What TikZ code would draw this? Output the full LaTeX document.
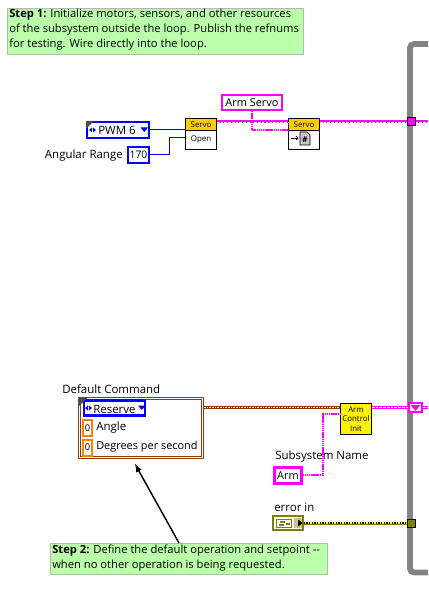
\documentclass[tikz,border=0pt]{standalone}
\usepackage{fontspec}
\setmainfont{Open Sans}
\definecolor{notegreen}{RGB}{187,255,170}
\definecolor{notegray}{RGB}{176,188,172}
\definecolor{loopgray}{RGB}{132,132,132}
\definecolor{refpink}{RGB}{255,0,255}
\definecolor{ctlblue}{RGB}{0,0,255}
\definecolor{numorange}{RGB}{255,128,0}
\definecolor{clubrown}{RGB}{140,60,10}
\definecolor{errolive}{RGB}{128,128,0}
\definecolor{headgold}{RGB}{255,204,0}
\tikzset{
  notebox/.style={draw=notegray,fill=notegreen,line width=0.75pt,inner sep=0pt,anchor=north west,minimum height=#1},
  vibox/.style={draw=black,fill=white,line width=0.75pt,inner sep=0pt,minimum width=23.25pt,minimum height=23.25pt},
  vihead/.style={draw=black,fill=headgold,line width=0.75pt,inner sep=0pt,minimum width=23.25pt,minimum height=9pt,font=\fontsize{5.9}{6}\selectfont},
  ctlbox/.style={draw=ctlblue,fill=white,line width=1.8pt,inner sep=0pt,font=\fontsize{8.6}{10}\selectfont},
  refbox/.style={draw=refpink,fill=white,line width=1.8pt,inner sep=0pt,font=\fontsize{8.2}{10}\selectfont},
  numbox/.style={draw=numorange,fill=white,line width=1.5pt,inner sep=0pt,minimum width=6.75pt,minimum height=12pt,font=\fontsize{7}{9}\selectfont},
  lbl/.style={inner sep=0pt,anchor=west,font=\fontsize{8.6}{10}\selectfont},
  tunnel/.style={draw=black,line width=0.75pt,inner sep=0pt,minimum width=6pt,minimum height=6pt},
  bluewire/.style={draw=ctlblue,line width=0.75pt},
  refwire/.style={draw=refpink,line width=2.25pt,postaction={draw=white,line width=0.6pt,dash pattern=on 2pt off 0.8pt}},
  thinref/.style={draw=refpink,line width=0.9pt,dash pattern=on 1.1pt off 0.5pt},
  bluemark/.style={fill=ctlblue,draw=none},
  cornermark/.style={fill=black!70,draw=none},
}
\begin{document}
\begin{tikzpicture}[x=0.75pt,y=0.75pt,yscale=-1,xscale=1]
\useasboundingbox (0,0) rectangle (428,591);
% Loop frame
\draw [loopgray,line width=4.4,rounded corners=3] (428,44) -- (410,44) -- (410,572.5) -- (428,572.5);
% Notes
\node (stepone) [notebox=34.5pt,minimum width=222pt] at (7,8) {};
\node (steponetext) [inner sep=0pt,anchor=north west,align=left,font=\fontsize{8.4}{11.25}\selectfont] at (9,9) {\textbf{Step 1:} Initialize motors, sensors, and other resources\\of the subsystem outside the loop. Publish the refnums\\for testing. Wire directly into the loop.};
\node (steptwo) [notebox=23.25pt,minimum width=207.75pt] at (50,543) {};
\node (steptwotext) [inner sep=0pt,anchor=north west,align=left,font=\fontsize{8.4}{11.25}\selectfont] at (52,544.5) {\textbf{Step 2:} Define the default operation and setpoint -{}-\\when no other operation is being requested.};
% Servo row
\node (pwm) [ctlbox,minimum width=46.5pt,minimum height=12pt] at (118,130) {};
\node (pwmtext) [lbl] at (98,130.5) {PWM 6};
\node (range) [ctlbox,minimum width=15.5pt,minimum height=12pt,font=\fontsize{7.8}{10}\selectfont] at (138.5,155) {170};
\node (rangelabel) [lbl,anchor=east] at (123,156) {Angular Range};
\node (openvi) [vibox,anchor=north west] at (185,118) {};
\node (openhead) [vihead,anchor=north west] at (185,118) {Servo};
\node (opentext) [inner sep=0pt,font=\fontsize{5.9}{7}\selectfont] at (201,139.5) {Open};
\node (armservo) [refbox,minimum width=45pt,minimum height=11pt] at (252,102.5) {Arm Servo};
\node (writevi) [vibox,anchor=north west] at (288,118) {};
\node (writehead) [vihead,anchor=north west] at (288,118) {Servo};
\coordinate (refend) at (428,122);
\coordinate (bend) at (252,130);
\node (reftunnel) [tunnel,fill=refpink] at (411,122) {};
% Wires
\draw [bluewire] (pwm.east) -- (openvi.west |- pwm.east);
\draw [bluewire] (range.east) -- ++(19,0) |- (185,138);
\draw [refwire] (openvi.east |- reftunnel) -- (writevi.west |- reftunnel);
\draw [thinref] (armservo.south) -- (bend) -- (writevi.west |- bend);
\draw [refwire] (writevi.east |- reftunnel) -- (reftunnel.west);
\draw [refwire] (reftunnel.east) -- (refend);
% Control marks and write icon
\fill [cornermark] (86,121) -- (94,121) -- (86,129) -- cycle;
\fill [bluemark] (89,130) -- (92,127.5) -- (92,132.5) -- cycle;
\fill [bluemark] (96,130) -- (93,127.5) -- (93,132.5) -- cycle;
\fill [bluemark] (140.5,127.5) -- (148,127.5) -- (144.25,132) -- cycle;
\draw [line width=0.6pt] (291,138) -- (298,138);
\draw [line width=0.6pt] (296,136) -- (298,138) -- (296,140);
\draw [fill=black!22,line width=0.6pt] (300,132) -- (307,132) -- (310,135) -- (310,145) -- (300,145) -- cycle;
\node (hashmark) [inner sep=0pt,font=\fontsize{6}{6}\selectfont\bfseries] at (305,140) {\#};
% Default command cluster
\node (defaultlabel) [lbl] at (62,389.5) {Default Command};
\node (cluster) [draw=clubrown,fill=white,line width=0.75pt,double=white,double distance=0.75pt,inner sep=0pt,anchor=north west,minimum width=92.25pt,minimum height=44.25pt] at (79,398) {};
\node (reserve) [ctlbox,minimum width=46pt,minimum height=11.5pt] at (114.5,408) {};
\node (reservetext) [lbl] at (93,409) {Reserve};
\node (anglenum) [numbox] at (87.5,428) {0};
\node (degnum) [numbox] at (87.5,447.5) {0};
\node (anglelabel) [lbl] at (96,427.5) {Angle};
\node (deglabel) [lbl,font=\fontsize{8.2}{10}\selectfont] at (96,446.5) {Degrees per second};
\fill [cornermark] (78,397) -- (88,397) -- (78,407) -- cycle;
\fill [bluemark] (85,408) -- (88,405.5) -- (88,410.5) -- cycle;
\fill [bluemark] (92,408) -- (89,405.5) -- (89,410.5) -- cycle;
\fill [bluemark] (138,405.5) -- (145.5,405.5) -- (141.75,410) -- cycle;
% Arm control
\node (armcontrol) [draw=black,fill=yellow,line width=0.75pt,inner sep=0pt,minimum width=23.25pt,minimum height=23.25pt,anchor=north west,align=center,font=\fontsize{5.9}{7.2}\selectfont] at (340,403) {Arm\\Control\\Init};
\node (subtunnel) [draw=refpink,fill=yellow!15,line width=1.5pt,inner sep=0pt,minimum width=10pt,minimum height=7pt] at (415.5,407.5) {};
\fill [refpink] (410.5,405) -- (420.5,405) -- (415.5,411) -- cycle;
\node (sublabel) [lbl] at (275,457) {Subsystem Name};
\node (armname) [refbox,minimum width=20pt,minimum height=12pt] at (288,475.5) {Arm};
\coordinate (suba) at (323,475);
\coordinate (subb) at (323,414);
\coordinate (brownout) at (204,407);
\draw [draw=clubrown,line width=2.25pt,postaction={draw=white!70!orange,line width=0.7pt,dash pattern=on 1.2pt off 0.8pt}] (brownout) -- (armcontrol.west |- brownout);
\draw [refwire] (armcontrol.east |- subtunnel) -- (subtunnel.west);
\draw [refwire] (subtunnel.east) -- (428,407.5);
\draw [thinref] (armname.east |- suba) -- (suba) -- (subb) -- (armcontrol.west |- subb);
% Error in
\node (errlabel) [lbl] at (274,507) {error in};
\node (errcluster) [draw=errolive,fill=white,line width=1.5pt,inner sep=0pt,minimum width=22pt,minimum height=10pt] at (288,523) {};
\node (errtunnel) [tunnel,fill=errolive] at (411,523) {};
\draw [draw=errolive,line width=2.25pt,postaction={draw=black,line width=0.9pt,dash pattern=on 1pt off 1pt},postaction={draw=yellow,line width=0.9pt,dash pattern=on 1pt off 1pt,dash phase=1pt}] (errcluster.east) -- (errtunnel.west);
\draw [draw=errolive,fill=white,line width=0.6pt] (276,519) rectangle (291,527);
\fill [errolive] (280,520.5) rectangle (285,522.5);
\fill [errolive] (279,524) rectangle (284,526);
\fill [errolive] (286,523) rectangle (290,525);
\fill [errolive!45] (294,518) rectangle (302,528);
\fill [black] (298,519.5) -- (303,523) -- (298,526.5) -- cycle;
% Note arrow
\draw [-latex,line width=1.1pt] (steptwo.north west -| 179,543) -- (135,464);
\end{tikzpicture}
\end{document}
